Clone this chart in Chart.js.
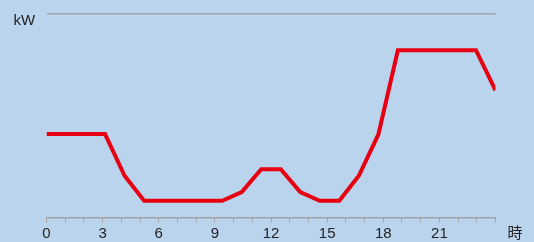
<!DOCTYPE html>
<html>
<head>
<meta charset="utf-8">
<script src="https://cdn.jsdelivr.net/npm/chart.js@4/dist/chart.umd.min.js"></script>
<style>
html,body{margin:0;padding:0;background:#bad4ee;}
canvas{display:block;}
</style>
</head>
<body>
<canvas id="c" width="534" height="242"></canvas>
<script>
// Hour index of each data point (0..23)
const hours = [0,1,2,3,4,5,6,7,8,9,10,11,12,13,14,15,16,17,18,19,20,21,22,23];
// Power (kW; y-axis top = 10)
const power = [4.1,4.1,4.1,4.1,2.05,0.82,0.82,0.82,0.82,0.82,1.25,2.37,2.37,1.25,0.82,0.82,2.05,4.08,8.22,8.22,8.22,8.22,8.22,6.25];
// Axis tick labels (hours) shown every 3 hours on a 0-24 scale
const tickLabels = [0,3,6,9,12,15,18,21];
const yMax = 10;
const yUnit = 'kW';
const xUnit = '時';

const FONT = '"Liberation Sans", Arial, Helvetica, sans-serif';
const GRAY = '#a3a3a3';

const unitsPlugin = {
  id: 'units',
  afterDraw(chart) {
    const ctx = chart.ctx;
    ctx.save();
    ctx.fillStyle = '#222';
    ctx.font = '15px ' + FONT;
    ctx.textBaseline = 'middle';
    ctx.textAlign = 'left';
    ctx.fillText(yUnit, 13.5, 21);
    ctx.font = '15px "Noto Sans CJK JP", sans-serif';
    ctx.textAlign = 'center';
    ctx.fillText(xUnit, 515, 232);
    ctx.restore();
  }
};

new Chart(document.getElementById('c'), {
  type: 'line',
  data: {
    datasets: [{
      data: hours.map((h, i) => ({x: h, y: power[i]})),
      borderColor: '#e60012',
      borderWidth: 4,
      pointRadius: 0,
      tension: 0,
      fill: false,
      borderJoinStyle: 'miter',
      xAxisID: 'x',
      yAxisID: 'y'
    }]
  },
  options: {
    responsive: false,
    animation: false,
    events: [],
    layout: { padding: { left: 46.5, right: 38.5, top: 14, bottom: -2.5 } },
    plugins: { legend: { display: false }, tooltip: { enabled: false } },
    scales: {
      x: {
        type: 'linear',
        display: false,
        min: hours[0],
        max: hours[hours.length - 1]
      },
      x2: {
        type: 'linear',
        position: 'bottom',
        min: 0,
        max: 24,
        border: { display: true, color: GRAY, width: 1.5 },
        grid: { drawOnChartArea: false, drawTicks: true, tickLength: 5, color: GRAY, lineWidth: 1 },
        ticks: {
          stepSize: 1,
          autoSkip: false,
          maxRotation: 0,
          padding: 2,
          color: '#222',
          font: { family: FONT, size: 15 },
          callback: v => tickLabels.includes(v) ? String(v) : ''
        }
      },
      y: {
        type: 'linear',
        min: 0,
        max: yMax,
        display: true,
        border: { display: false },
        ticks: { display: false, stepSize: yMax },
        grid: {
          drawTicks: false,
          lineWidth: 1.5,
          color: c => (c.tick && c.tick.value === yMax) ? GRAY : 'rgba(0,0,0,0)'
        }
      }
    }
  },
  plugins: [unitsPlugin]
});
</script>
</body>
</html>
